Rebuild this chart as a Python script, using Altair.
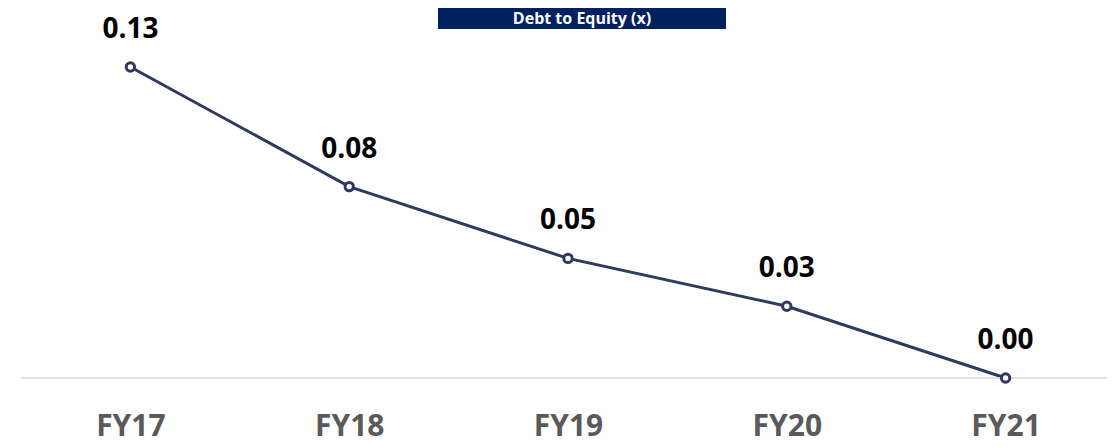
import altair as alt
import pandas as pd

years = ["FY17", "FY18", "FY19", "FY20", "FY21"]
ratios = [0.13, 0.08, 0.05, 0.03, 0.00]
labels = ["0.13", "0.08", "0.05", "0.03", "0.00"]
title_text = "Debt to Equity (x)"

df = pd.DataFrame({"year": years, "ratio": ratios, "label": labels})

FONT = "Open Sans"
NAVY = "#2E3B5E"
W, H = 1086, 311

x_enc = alt.X("year:N", sort=years, title=None,
              scale=alt.Scale(type="point", padding=0, range=[109.4, 984.6]),
              axis=alt.Axis(labelAngle=0, ticks=False, domain=False,
                            labelFont=FONT, labelFontSize=30,
                            labelFontWeight="bold", labelColor="#595959",
                            labelPadding=33, grid=False))
y_enc = alt.Y("ratio:Q", scale=alt.Scale(domain=[0, 0.13], nice=False, zero=True),
              axis=None)

base = alt.Chart(df).encode(x=x_enc, y=y_enc)

tdf = pd.DataFrame({"t": [title_text]})
baseline_rule = alt.Chart(tdf).mark_rule(color="#d9d9d9", strokeWidth=1.5).encode(
    x=alt.value(0), x2=alt.value(W), y=alt.value(H))

line = base.mark_line(color=NAVY, strokeWidth=3)
points = base.mark_point(shape="circle", filled=True, fill="white", stroke=NAVY,
                         strokeWidth=3, size=70, opacity=1)
texts = base.mark_text(font=FONT, fontSize=28, fontWeight="bold", color="black",
                       baseline="alphabetic", dy=-29).encode(text="label:N")

box = alt.Chart(tdf).mark_rect(color="#002060").encode(
    x=alt.value(417), x2=alt.value(705), y=alt.value(-59), y2=alt.value(-38))
ttl = alt.Chart(tdf).mark_text(font=FONT, fontSize=16, fontWeight="bold", color="white",
                               baseline="alphabetic", align="center").encode(
    x=alt.value(561), y=alt.value(-43), text="t:N")

chart = alt.layer(line, baseline_rule, points, texts, box, ttl).properties(
    width=W, height=H,
    autosize=alt.AutoSizeParams(type="none"),
    padding={"left": 13, "top": 59, "right": 0, "bottom": 69},
).configure_view(stroke=None)

chart.save("out.html", embed_options={"renderer": "svg", "actions": False})
